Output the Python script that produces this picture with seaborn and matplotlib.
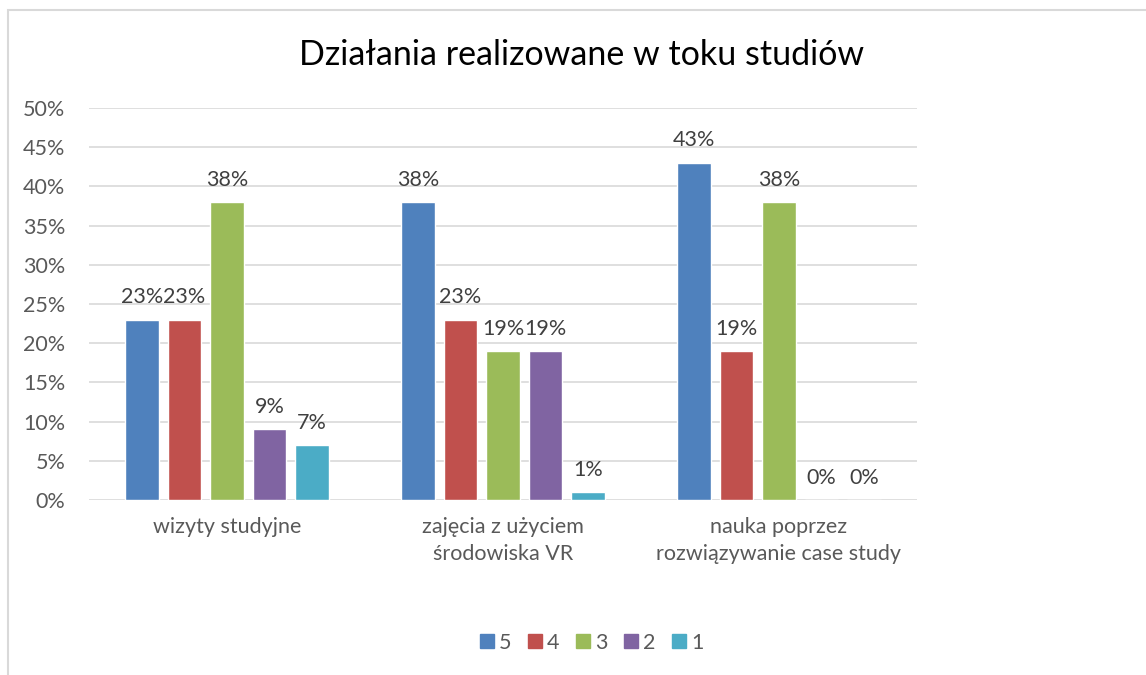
import matplotlib
matplotlib.use("Agg")
import matplotlib.pyplot as plt
import seaborn as sns
import pandas as pd
from matplotlib.patches import Rectangle
from matplotlib.lines import Line2D

categories = ["wizyty studyjne", "zajęcia z użyciem\nśrodowiska VR", "nauka poprzez\nrozwiązywanie case study"]
series = ["5", "4", "3", "2", "1"]
values_5 = [23, 38, 43]
values_4 = [23, 23, 19]
values_3 = [38, 19, 38]
values_2 = [9, 19, 0]
values_1 = [7, 1, 0]
colors = ["#4F81BD", "#C0504D", "#9BBB59", "#8064A2", "#4BACC6"]
yticks = [0, 5, 10, 15, 20, 25, 30, 35, 40, 45, 50]

rows = []
for s, vals in zip(series, [values_5, values_4, values_3, values_2, values_1]):
    for c, v in zip(categories, vals):
        rows.append({"category": c, "series": s, "value": v})
df = pd.DataFrame(rows)

sns.set_theme(style="white")
plt.rcParams["font.family"] = ["Lato", "DejaVu Sans"]

fig = plt.figure(figsize=(11.46, 6.75), dpi=100)
ax = fig.add_axes([89/1146, 1-500/675, (917-89)/1146, (500-108)/675])

sns.barplot(data=df, x="category", y="value", hue="series", hue_order=series,
            order=categories, palette=colors, width=0.77, gap=0.22,
            ax=ax, legend=False, saturation=1)

for cont in ax.containers:
    ax.bar_label(cont, labels=[f"{int(b.get_height())}%" for b in cont],
                 padding=9, fontsize=15.5, color="#404040")

ax.set_ylim(0, 50)
ax.set_xlim(-0.5, 2.5)
ax.set_yticks(yticks)
ax.set_yticklabels([f"{t}%" for t in yticks], fontsize=15.5, color="#595959")
ax.tick_params(axis="x", labelsize=15.5, labelcolor="#595959", pad=12, length=0)
ax.tick_params(axis="y", pad=17, length=0)
for lab in ax.get_xticklabels():
    lab.set_linespacing(1.45)
ax.yaxis.grid(True, color="#D9D9D9", linewidth=1.2)
ax.set_axisbelow(True)
for sp in ax.spines.values():
    sp.set_visible(False)
ax.set_xlabel("")
ax.set_ylabel("")

fig.text(582/1146, 1-55/675, "Działania realizowane w toku studiów",
         ha="center", va="center", fontsize=24.5, color="#000000")

handles = [Line2D([0], [0], marker="s", linestyle="", markersize=10.5,
                  markerfacecolor=c, markeredgecolor=c) for c in colors]
fig.legend(handles, series, loc="center", bbox_to_anchor=(590/1146, 1-643/675),
           ncol=5, frameon=False, fontsize=15.5, handletextpad=0.05,
           columnspacing=0.6, labelcolor="#595959", handlelength=1.0)

fig.patches.append(Rectangle((8/1146, -0.1), 1.2, 1.1 - 10/675, transform=fig.transFigure,
                             fill=False, edgecolor="#D9D9D9", linewidth=1.5))

fig.savefig("out.png", dpi=100)
